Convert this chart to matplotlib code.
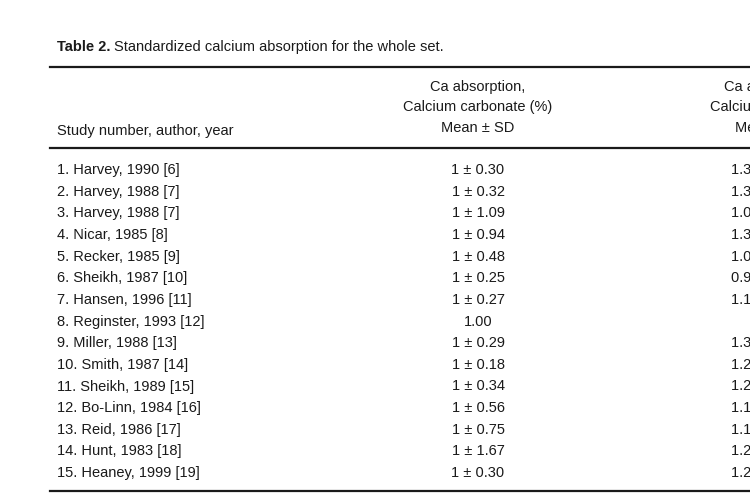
import matplotlib
matplotlib.use("Agg")
import matplotlib.pyplot as plt

studies = ["1. Harvey, 1990 [6]", "2. Harvey, 1988 [7]", "3. Harvey, 1988 [7]", "4. Nicar, 1985 [8]",
           "5. Recker, 1985 [9]", "6. Sheikh, 1987 [10]", "7. Hansen, 1996 [11]", "8. Reginster, 1993 [12]",
           "9. Miller, 1988 [13]", "10. Smith, 1987 [14]", "11. Sheikh, 1989 [15]", "12. Bo-Linn, 1984 [16]",
           "13. Reid, 1986 [17]", "14. Hunt, 1983 [18]", "15. Heaney, 1999 [19]"]
carbonate = ["1 ± 0.30", "1 ± 0.32", "1 ± 1.09", "1 ± 0.94", "1 ± 0.48", "1 ± 0.25", "1 ± 0.27", "1.00",
             "1 ± 0.29", "1 ± 0.18", "1 ± 0.34", "1 ± 0.56", "1 ± 0.75", "1 ± 1.67", "1 ± 0.30"]
citrate = ["1.30", "1.32", "1.05", "1.30", "1.06", "0.90", "1.10", "",
           "1.30", "1.20", "1.20", "1.10", "1.10", "1.20", "1.20"]

W, H = 750, 500
fig = plt.figure(figsize=(7.5, 5), dpi=100)
fig.patch.set_facecolor("white")
col = "#1a1a1a"

def T(x, y, s, **kw):
    fig.text(x / W, 1 - y / H, s, color=col, fontsize=10.5, family="Liberation Sans", va="center", **kw)

def L(y, lw):
    fig.add_artist(plt.Line2D([50 / W, 1.0], [1 - y / H] * 2, color=col, lw=lw))

fig.text(57 / W, 1 - 47 / H, "Table 2.", fontsize=10.5, weight="bold", family="Liberation Sans", va="center", color=col)
T(114, 47, "Standardized calcium absorption for the whole set.")
L(67, 1.6)
L(148, 1.6)
L(491, 1.6)
for i, s in enumerate(["Ca absorption,", "Calcium carbonate (%)", "Mean ± SD"]):
    T(478, 87 + i * 20.5, s, ha="center")
    T(772, 87 + i * 20.5, ["Ca absorption,", "Calcium citrate (%)", "Mean ± SD"][i], ha="center")
T(57, 131, "Study number, author, year")
for i in range(len(studies)):
    y = 170 + i * 21.65
    T(57, y, studies[i])
    T(478, y, carbonate[i], ha="center")
    if citrate[i]:
        T(731, y, citrate[i] + " ± 0.30")
fig.savefig("out.png", dpi=100)
